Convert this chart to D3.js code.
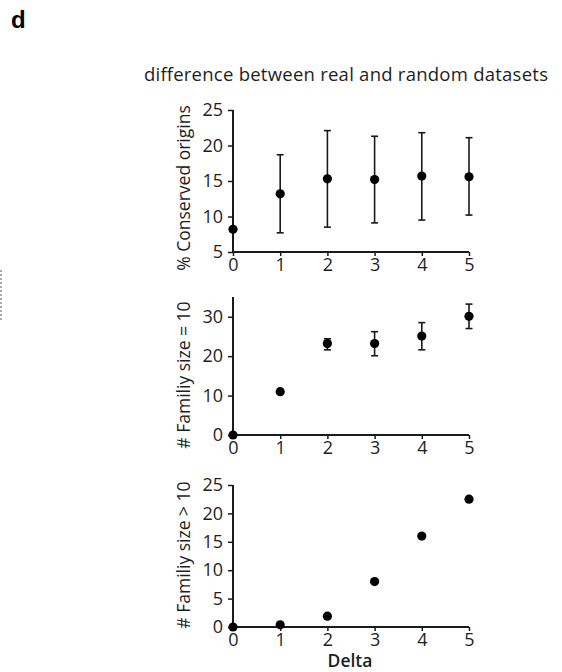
<!DOCTYPE html>
<html>
<head>
<meta charset="utf-8">
<script src="https://cdn.jsdelivr.net/npm/d3@7"></script>
<style>
  html, body { margin: 0; padding: 0; background: #fff; }
  svg { display: block; }
  text { font-family: "Open Sans", "Noto Sans", sans-serif; fill: #1e1e1e; }
</style>
</head>
<body>
<svg id="chart" width="562" height="672"></svg>
<script>
// Delta values shared by all three panels
const delta = [0, 1, 2, 3, 4, 5];
const xTicks = [0, 1, 2, 3, 4, 5];

// Panel 1: % conserved origins (mean with lower / upper error)
const conservedMean  = [8.2, 13.2, 15.3, 15.2, 15.7, 15.6];
const conservedLow   = [5.0, 7.7, 8.5, 9.1, 9.5, 10.2];
const conservedHigh  = [11.4, 18.7, 22.1, 21.3, 21.8, 21.1];
const conservedTicks = [5, 10, 15, 20, 25];

// Panel 2: number of families of size 10
const fam10Mean  = [0, 11, 23.2, 23.2, 25.1, 30.1];
const fam10Low   = [null, null, 21.6, 20.1, 21.6, 27.0];
const fam10High  = [null, null, 24.4, 26.2, 28.5, 33.2];
const fam10Ticks = [0, 10, 20, 30];

// Panel 3: number of families larger than 10
const famGt10Mean  = [0, 0.4, 1.9, 8.0, 16.0, 22.5];
const famGt10Ticks = [0, 5, 10, 15, 20, 25];

const svg = d3.select("#chart");
const ink = "#1a1a1a";

const x = d3.scaleLinear().domain([0, 5]).range([233, 469]);

const panels = [
  { label: "% Conserved origins", labelY: 188, domain: [5, 25], range: [252, 110], ticks: conservedTicks,
    mean: conservedMean, low: conservedLow, high: conservedHigh, capped: [false, true, true, true, true, true] },
  { label: "# Familiy size = 10", labelY: 375, domain: [0, 35], range: [435, 297], ticks: fam10Ticks,
    mean: fam10Mean, low: fam10Low, high: fam10High, capped: [true, true, true, true, true, true] },
  { label: "# Familiy size > 10", labelY: 555, domain: [0, 25], range: [627, 485], ticks: famGt10Ticks,
    mean: famGt10Mean, low: null, high: null, capped: null }
];

panels.forEach(p => {
  const y = d3.scaleLinear().domain(p.domain).range(p.range);
  const g = svg.append("g");

  // y axis
  const yAxis = d3.axisLeft(y).tickValues(p.ticks).tickSize(5).tickPadding(5).tickFormat(d3.format("d"));
  const ya = g.append("g").attr("transform", `translate(${x(0)},0)`).call(yAxis);
  // x axis
  const xAxis = d3.axisBottom(x).tickValues(xTicks).tickSize(4).tickPadding(2).tickFormat(d3.format("d"));
  const xa = g.append("g").attr("transform", `translate(0,${p.range[0]})`).call(xAxis);

  [ya, xa].forEach(a => {
    a.select(".domain").attr("stroke", ink).attr("stroke-width", 2);
    a.selectAll(".tick line").attr("stroke", ink).attr("stroke-width", 1.5);
    a.selectAll(".tick text").style("font-size", "18px").style("fill", "#1e1e1e");
  });
  ya.select(".domain").attr("d", `M0,${p.range[0]}V${p.range[1]}`);
  xa.select(".domain").attr("d", `M${x(0)},0H${x(5)}`);

  // y label
  g.append("text")
    .attr("transform", `translate(190,${p.labelY}) rotate(-90)`)
    .attr("text-anchor", "middle")
    .style("font-size", "17.5px")
    .text(p.label);

  // error bars
  if (p.low) {
    delta.forEach((d, i) => {
      if (p.low[i] == null) return;
      const lo = Math.max(p.low[i], p.domain[0]);
      g.append("line")
        .attr("x1", x(d)).attr("x2", x(d))
        .attr("y1", y(lo)).attr("y2", y(p.high[i]))
        .attr("stroke", ink).attr("stroke-width", 1.6);
      if (p.capped[i]) {
        [p.high[i], p.low[i]].forEach(v => {
          g.append("line")
            .attr("x1", x(d) - 3.5).attr("x2", x(d) + 3.5)
            .attr("y1", y(v)).attr("y2", y(v))
            .attr("stroke", ink).attr("stroke-width", 1.6);
        });
      }
    });
  }

  // points
  g.selectAll("circle.pt").data(p.mean).enter().append("circle")
    .attr("class", "pt")
    .attr("cx", (v, i) => x(delta[i]))
    .attr("cy", v => y(v))
    .attr("r", 4.6)
    .attr("fill", "#000");
});

// titles
svg.append("text")
  .attr("x", 346).attr("y", 81)
  .attr("text-anchor", "middle")
  .style("font-size", "18.5px")
  .attr("textLength", 404)
  .text("difference between real and random datasets");

svg.append("text")
  .attr("x", 350).attr("y", 667)
  .attr("text-anchor", "middle")
  .style("font-size", "17.5px")
  .style("font-weight", "600")
  .text("Delta");

svg.append("text")
  .attr("x", 11).attr("y", 28)
  .style("font-family", "'Liberation Sans', Arial, sans-serif")
  .style("font-size", "24px")
  .style("font-weight", "bold")
  .style("fill", "#000")
  .text("d");

// dotted edge of a neighbouring panel frame
svg.append("path")
  .attr("d", "M1,270 V322")
  .attr("stroke", "#555")
  .attr("stroke-width", 1)
  .attr("stroke-dasharray", "2,2")
  .attr("fill", "none");
</script>
</body>
</html>
